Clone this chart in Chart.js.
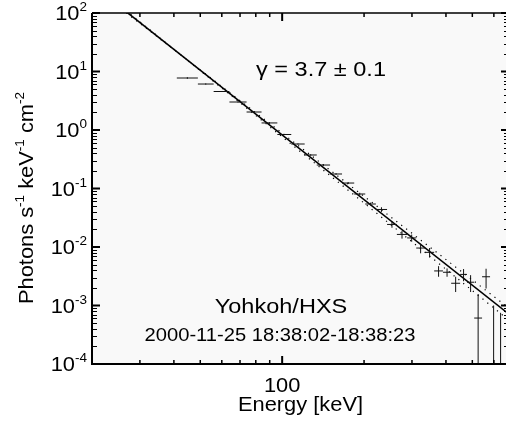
<!DOCTYPE html>
<html>
<head>
<meta charset="utf-8">
<script src="https://cdn.jsdelivr.net/npm/chart.js@4.4.1/dist/chart.umd.min.js"></script>
<style>
  html, body { margin: 0; padding: 0; background: #fff; overflow: hidden; }
  #wrap { width: 512px; height: 421px; }
</style>
</head>
<body>
<div id="wrap"><canvas id="spec" width="512" height="421"></canvas></div>
<script>
// energy bin edges [keV], one more than the number of bins
const binEdges = [41, 49, 56, 64, 74, 84, 96, 108, 121, 134, 150, 166, 184, 202, 221,
  243, 264, 288, 311, 335, 362, 390, 418, 451, 478, 508, 543, 581, 617, 654];
// photon flux per bin and its 1-sigma error
const flux = [7.74, 6.11, 4.55, 3.01, 2.03, 1.32, 0.838, 0.576, 0.374, 0.252, 0.177, 0.124,
  0.0805, 0.0543, 0.0438, 0.0243, 0.0164, 0.0143, 0.0096, 0.0081, 0.0039, 0.0037, 0.0024,
  0.0034, 0.0025, 0.00061, 0.0031, -0.0002, -0.0002];
const fluxErr = [0.25, 0.15, 0.09, 0.06, 0.04, 0.03, 0.02, 0.015, 0.011, 0.008, 0.006, 0.005,
  0.004, 0.003, 0.004, 0.003, 0.0025, 0.002, 0.0018, 0.0015, 0.0008, 0.0006, 0.0007,
  0.0008, 0.0008, 0.00096, 0.00115, 0.0012, 0.00095];

// power-law fit and its +/- bounds, end points
const fitEnergy = [20, 682];
const fitFlux = [305, 0.00071];
const fitHiFlux = [285, 0.00090];
const fitLoFlux = [325, 0.00056];

// axis ticks
const yDecades = [-4, -3, -2, -1, 0, 1, 2];
const xMajorTicks = [100];
const xMinorTicks = [30, 40, 50, 60, 70, 80, 90, 200, 300, 400, 500, 600];

const FONT = '"Liberation Sans", Arial, Helvetica, sans-serif';
const SX = 1.12; // horizontal stretch of all text

function runWidth(ctx, parts, size) {
  let w = 0;
  for (const p of parts) {
    ctx.font = (p[1] ? size * 0.62 : size) + 'px ' + FONT;
    w += ctx.measureText(p[0]).width;
  }
  return w * SX;
}

// draw text runs, p[1] true -> superscript
function drawRuns(ctx, parts, x, y, size, align) {
  const w = runWidth(ctx, parts, size) / SX;
  ctx.save();
  ctx.translate(x, y);
  ctx.scale(SX, 1);
  ctx.fillStyle = '#000';
  ctx.textBaseline = 'alphabetic';
  ctx.textAlign = 'left';
  let cx = align === 'center' ? -w / 2 : align === 'right' ? -w : 0;
  for (const p of parts) {
    ctx.font = (p[1] ? size * 0.62 : size) + 'px ' + FONT;
    ctx.fillText(p[0], cx, p[1] ? -size * 0.45 : 0);
    cx += ctx.measureText(p[0]).width;
  }
  ctx.restore();
}

const toPts = (xs, ys) => xs.map((x, i) => ({ x: x, y: ys[i] }));

const binPts = flux.map((f, i) => ({
  x: Math.sqrt(binEdges[i] * binEdges[i + 1]),
  y: f,
  xMin: binEdges[i],
  xMax: binEdges[i + 1],
  err: fluxErr[i]
}));

const frame = {
  id: 'frame',
  beforeDraw(chart) {
    const { ctx, chartArea: a } = chart;
    ctx.save();
    ctx.fillStyle = '#f9f9f9';
    ctx.fillRect(a.left, a.top, a.right - a.left, a.bottom - a.top);
    ctx.restore();
  },
  afterDatasetsDraw(chart) {
    const { ctx, chartArea: a, scales: { x, y } } = chart;
    ctx.save();
    ctx.beginPath();
    ctx.rect(a.left, a.top, a.right - a.left, a.bottom - a.top);
    ctx.clip();
    ctx.strokeStyle = '#111';
    ctx.lineWidth = 1;
    for (const p of chart.data.datasets[3].data) {
      const px = x.getPixelForValue(p.x);
      const top = y.getPixelForValue(p.y + p.err);
      const lo = p.y - p.err;
      const bot = lo > 0 ? y.getPixelForValue(lo) : a.bottom + 5;
      ctx.beginPath();
      ctx.moveTo(px, top);
      ctx.lineTo(px, bot);
      if (p.y > 0) {
        const py = y.getPixelForValue(p.y);
        ctx.moveTo(x.getPixelForValue(p.xMin), py);
        ctx.lineTo(x.getPixelForValue(p.xMax), py);
      }
      ctx.stroke();
    }
    ctx.restore();
  },
  afterDraw(chart) {
    const { ctx, chartArea: a, scales: { x, y } } = chart;
    ctx.save();
    ctx.strokeStyle = '#000';
    // box
    ctx.lineWidth = 2;
    ctx.beginPath();
    ctx.moveTo(a.left, a.top);
    ctx.lineTo(a.left, a.bottom);
    ctx.lineTo(a.right, a.bottom);
    ctx.stroke();
    ctx.lineWidth = 1.5;
    ctx.beginPath();
    ctx.moveTo(a.left, a.top);
    ctx.lineTo(a.right, a.top);
    ctx.lineTo(a.right, a.bottom);
    ctx.stroke();

    // y ticks, both sides, pointing inward
    for (const d of yDecades) {
      const py = y.getPixelForValue(Math.pow(10, d));
      ctx.lineWidth = 2;
      ctx.beginPath();
      ctx.moveTo(a.left, py); ctx.lineTo(a.left + 8, py);
      ctx.moveTo(a.right, py); ctx.lineTo(a.right - 8, py);
      ctx.stroke();
      if (d < 2) {
        ctx.lineWidth = 1;
        for (let m = 2; m <= 9; m++) {
          const pm = Math.round(y.getPixelForValue(m * Math.pow(10, d))) + 0.5;
          ctx.beginPath();
          ctx.moveTo(a.left, pm); ctx.lineTo(a.left + 5, pm);
          ctx.moveTo(a.right, pm); ctx.lineTo(a.right - 5, pm);
          ctx.stroke();
        }
      }
      drawRuns(ctx, [['10', false], [String(d), true]], 87, py + 7, 19.5, 'right');
    }

    // x ticks, top and bottom
    for (const v of xMajorTicks) {
      const px = x.getPixelForValue(v);
      ctx.lineWidth = 2;
      ctx.beginPath();
      ctx.moveTo(px, a.bottom); ctx.lineTo(px, a.bottom - 8);
      ctx.moveTo(px, a.top); ctx.lineTo(px, a.top + 8);
      ctx.stroke();
      drawRuns(ctx, [[String(v), false]], px, a.bottom + 28, 19.5, 'center');
    }
    ctx.lineWidth = 1.5;
    for (const v of xMinorTicks) {
      const px = x.getPixelForValue(v);
      ctx.beginPath();
      ctx.moveTo(px, a.bottom); ctx.lineTo(px, a.bottom - 4);
      ctx.moveTo(px, a.top); ctx.lineTo(px, a.top + 4);
      ctx.stroke();
    }

    // axis titles
    drawRuns(ctx, [['Energy [keV]', false]], (a.left + a.right) / 2, 411, 19.5, 'center');
    ctx.save();
    ctx.translate(33, 198);
    ctx.rotate(-Math.PI / 2);
    drawRuns(ctx, [['Photons s', false], ['-1', true], [' keV', false], ['-1', true],
      [' cm', false], ['-2', true]], 0, 0, 19.5, 'center');
    ctx.restore();

    // annotations
    drawRuns(ctx, [['\u03b3 = 3.7 \u00b1 0.1', false]], 321, 76, 21, 'center');
    drawRuns(ctx, [['Yohkoh/HXS', false]], 281, 313, 21, 'center');
    drawRuns(ctx, [['2000-11-25 18:38:02-18:38:23', false]], 280, 341, 18, 'center');
    ctx.restore();
  }
};

new Chart(document.getElementById('spec'), {
  type: 'scatter',
  data: {
    datasets: [
      { data: toPts(fitEnergy, fitFlux), showLine: true, borderColor: '#000',
        borderWidth: 1.6, pointRadius: 0 },
      { data: toPts(fitEnergy, fitHiFlux), showLine: true, borderColor: '#000',
        borderWidth: 1.2, borderDash: [1.2, 5], pointRadius: 0 },
      { data: toPts(fitEnergy, fitLoFlux), showLine: true, borderColor: '#000',
        borderWidth: 1.2, borderDash: [1.2, 5], pointRadius: 0 },
      { data: binPts, pointRadius: 0 }
    ]
  },
  options: {
    responsive: false,
    animation: false,
    devicePixelRatio: 1,
    layout: { padding: { top: 13, left: 0, right: 3, bottom: 0 } },
    plugins: { legend: { display: false }, tooltip: { enabled: false } },
    scales: {
      x: {
        type: 'logarithmic', min: 20, max: 682,
        grid: { display: false }, border: { display: false },
        ticks: { display: false },
        afterFit(s) { s.height = 57; }
      },
      y: {
        type: 'logarithmic', min: 1e-4, max: 100,
        grid: { display: false }, border: { display: false },
        ticks: { display: false },
        afterFit(s) { s.width = 92; }
      }
    }
  },
  plugins: [frame]
});
</script>
</body>
</html>
